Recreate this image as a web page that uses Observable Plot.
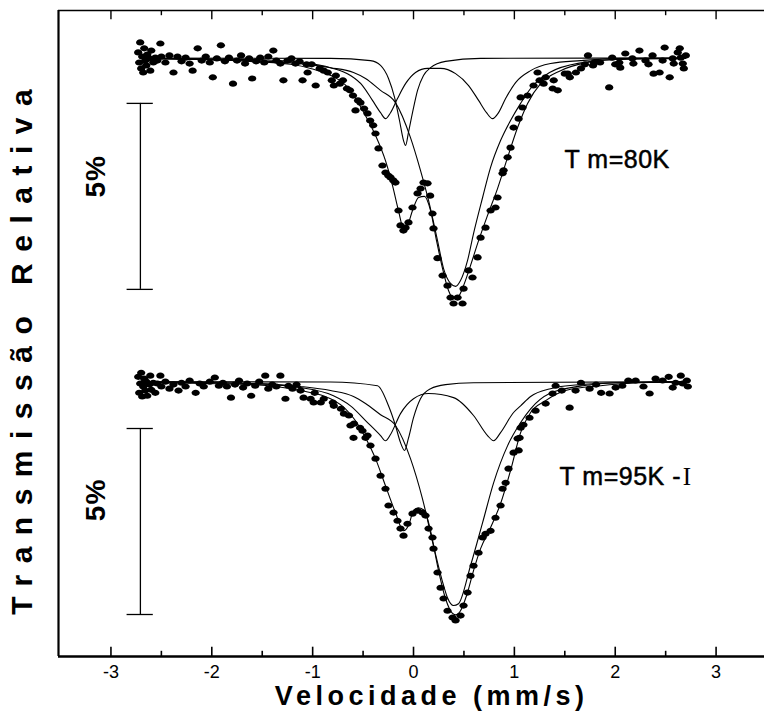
<!DOCTYPE html>
<html>
<head>
<meta charset="utf-8">
<script src="https://cdn.jsdelivr.net/npm/d3@7"></script>
<script src="https://cdn.jsdelivr.net/npm/@observablehq/plot@0.6"></script>
<style>
  html, body { margin: 0; padding: 0; background: #fff; }
  #chart svg { display: block; }
</style>
</head>
<body>
<div id="chart"></div>
<script>
// ---------- data (velocity mm/s, relative transmission %) ----------
const sampleLabels = ["T m=80K", "T m=95K -"];
const sampleOffsets = [0, -8.70];          // vertical stacking of the two spectra (in %)
const majorTicks = [-3, -2, -1, 0, 1, 2, 3];
const minorTicks = [-2.5, -1.5, -0.5, 0.5, 1.5, 2.5];
const scaleBarTop = [98.78, 98.74];         // top of each 5 % scale bar
const scaleBarLength = 5;

const pts80 = [
[-2.73,100.15],[-2.72,99.88],[-2.71,100.42],[-2.70,99.72],[-2.69,100.04],[-2.68,99.61],[-2.67,100.26],[-2.66,99.93],[-2.65,99.80],[-2.64,100.09],[-2.62,99.99],[-2.61,99.66],[-2.60,100.20],[-2.58,99.88],[-2.56,100.01],
[-2.54,99.93],[-2.51,100.39],[-2.50,100.04],[-2.46,99.88],[-2.42,100.07],[-2.38,99.61],[-2.34,100.04],[-2.30,99.91],[-2.26,100.01],[-2.22,99.85],[-2.19,99.66],[-2.14,100.26],[-2.10,99.93],[-2.06,100.04],[-2.02,99.88],[-1.99,99.48],[-1.95,99.99],[-1.91,100.34],[-1.87,99.91],[-1.83,100.01],[-1.79,99.31],[-1.75,99.93],[-1.71,100.07],[-1.67,99.85],[-1.63,99.99],[-1.60,99.45],[-1.56,99.91],[-1.52,100.01],[-1.48,99.88],[-1.44,100.04],[-1.39,100.20],[-1.36,99.93],[-1.32,99.85],[-1.29,99.40],[-1.25,99.93],[-1.21,99.99],[-1.17,99.85],[-1.13,99.91],[-1.10,99.40],[-1.06,99.83],[-1.05,99.61],[-1.01,99.83],[-0.97,99.26],[-0.93,99.72],[-0.89,99.66],[-0.85,99.61],[-0.81,99.40],[-0.79,99.26],[-0.77,99.53],[-0.73,99.31],[-0.70,99.40],[-0.66,99.18],[-0.63,99.13],[-0.60,98.99],[-0.575,98.59],[-0.55,98.86],[-0.526,98.80],[-0.49,98.64],[-0.456,98.51],[-0.43,98.32],[-0.40,98.19],[-0.377,97.97],[-0.347,97.57],[-0.308,97.11],[-0.278,96.92],[-0.25,96.84],[-0.228,96.79],[-0.20,96.71],[-0.179,96.65],[-0.149,95.90],[-0.129,95.50],[-0.10,95.36],[-0.079,95.44],[-0.050,95.58],[-0.010,95.98],[0.040,96.36],[0.070,96.49],[0.099,96.65],[0.139,96.63],[0.165,96.30],[0.188,95.82],[0.198,95.42],[0.238,94.62],[0.288,94.15],[0.337,93.88],[0.367,93.56],[0.397,93.40],[0.437,93.56],[0.486,93.40],[0.496,93.80],[0.546,94.29],[0.585,94.10],[0.635,94.64],[0.665,95.17],[0.714,95.44],[0.764,95.90],[0.813,95.98],[0.833,96.25],[0.883,96.90],[0.893,96.98],[0.933,97.33],[0.962,97.59],[0.992,98.13],[1.042,98.37],[1.062,98.94],[1.081,98.67],[1.131,98.99],[1.190,99.26],[1.230,99.61],[1.25,99.40],[1.29,99.31],[1.31,99.48],[1.38,99.18],[1.39,99.40],[1.43,99.13],[1.50,99.58],[1.53,99.58],[1.55,99.48],[1.61,99.61],[1.66,99.72],[1.70,99.83],[1.73,100.07],[1.78,99.80],[1.79,99.88],[1.85,99.88],[1.94,99.21],[1.97,100.01],[2.00,99.83],[2.04,99.88],[2.05,99.74],[2.10,100.12],[2.17,99.99],[2.18,99.85],[2.24,100.20],[2.30,99.93],[2.33,99.83],[2.37,100.07],[2.38,99.58],[2.44,99.61],[2.47,99.93],[2.49,100.28],[2.54,99.48],[2.57,99.99],[2.58,99.85],[2.62,100.15],[2.64,100.26],[2.65,100.01],[2.67,99.85],[2.68,99.72],[2.70,100.07]
];

const fit80Total = [[-2.70,99.99],[-2.11,99.96],[-1.62,99.91],[-1.22,99.83],[-1.02,99.72],[-0.82,99.53],[-0.67,99.26],[-0.575,98.91],[-0.476,98.45],[-0.377,97.92],[-0.278,97.24],[-0.208,96.57],[-0.149,95.90],[-0.099,95.42],[-0.060,95.50],[-0.010,95.90],[0.050,96.25],[0.109,96.28],[0.169,95.90],[0.228,95.09],[0.288,94.34],[0.347,93.75],[0.397,93.53],[0.446,93.59],[0.496,93.88],[0.565,94.42],[0.645,95.09],[0.734,95.77],[0.833,96.49],[0.933,97.33],[1.032,98.13],[1.131,98.78],[1.260,99.31],[1.458,99.66],[1.726,99.88],[1.984,99.96],[2.351,99.99],[2.698,99.99]];
const fit80A = [[-2.70,99.99],[-1.617,99.96],[-1.121,99.88],[-0.823,99.74],[-0.625,99.53],[-0.506,99.26],[-0.407,98.86],[-0.327,98.53],[-0.278,98.37],[-0.228,98.53],[-0.159,98.91],[-0.079,99.31],[0.020,99.61],[0.139,99.72],[0.268,99.72],[0.417,99.58],[0.546,99.26],[0.645,98.86],[0.724,98.53],[0.784,98.37],[0.843,98.53],[0.913,98.91],[1.012,99.34],[1.161,99.66],[1.359,99.85],[1.657,99.93],[2.054,99.99],[2.698,99.99]];
const fit80B = [[-2.70,100.00],[-0.823,99.99],[-0.427,99.93],[-0.327,99.80],[-0.248,99.45],[-0.188,98.94],[-0.139,98.32],[-0.099,97.78],[-0.079,97.65],[-0.050,98.00],[-0.010,98.53],[0.040,99.13],[0.099,99.53],[0.169,99.74],[0.317,99.91],[0.665,99.99],[2.698,100.00]];
const fit80C = [[-2.70,99.99],[-1.617,99.93],[-1.121,99.85],[-0.823,99.74],[-0.595,99.61],[-0.476,99.45],[-0.327,99.13],[-0.179,98.80],[-0.030,97.86],[0.069,96.98],[0.149,96.17],[0.238,95.09],[0.298,94.34],[0.367,93.94],[0.417,93.86],[0.466,94.02],[0.536,94.56],[0.595,95.28],[0.685,96.25],[0.764,97.06],[0.863,97.78],[0.962,98.32],[1.062,98.78],[1.161,99.18],[1.349,99.61],[1.677,99.88],[2.004,99.96],[2.698,99.99]];

const pts95 = [
[-2.73,100.13],[-2.72,99.70],[-2.71,99.95],[-2.70,100.24],[-2.69,99.60],[-2.68,99.87],[-2.67,100.08],[-2.66,99.76],[-2.65,100.00],[-2.64,99.62],[-2.62,99.92],[-2.61,100.16],[-2.60,99.78],[-2.58,99.97],[-2.56,99.70],
[-2.54,99.95],[-2.51,100.16],[-2.50,99.87],[-2.46,100.00],[-2.42,99.81],[-2.38,99.92],[-2.33,99.76],[-2.30,99.97],[-2.26,99.87],[-2.22,100.03],[-2.16,99.70],[-2.12,99.95],[-2.08,99.87],[-2.02,100.00],[-1.97,100.11],[-1.93,99.89],[-1.89,99.97],[-1.85,99.87],[-1.81,99.57],[-1.77,99.92],[-1.73,100.03],[-1.69,99.84],[-1.65,99.95],[-1.61,99.62],[-1.57,99.89],[-1.53,100.00],[-1.47,100.16],[-1.44,99.81],[-1.40,99.92],[-1.36,99.87],[-1.32,100.16],[-1.27,99.54],[-1.24,99.89],[-1.20,99.81],[-1.16,99.92],[-1.12,99.76],[-1.09,99.57],[-1.02,99.54],[-0.99,99.44],[-0.98,99.70],[-0.92,99.44],[-0.89,99.54],[-0.80,99.44],[-0.79,99.35],[-0.72,99.27],[-0.69,99.14],[-0.64,99.09],[-0.625,98.82],[-0.595,98.49],[-0.59,98.87],[-0.53,98.76],[-0.506,98.68],[-0.476,98.49],[-0.456,98.55],[-0.427,98.28],[-0.377,97.93],[-0.327,97.47],[-0.278,97.12],[-0.248,96.67],[-0.198,96.48],[-0.159,96.26],[-0.129,96.05],[-0.099,95.86],[-0.060,96.18],[-0.010,96.45],[0.040,96.53],[0.089,96.48],[0.119,96.40],[0.149,96.05],[0.188,95.81],[0.198,95.51],[0.238,94.87],[0.268,94.46],[0.298,94.17],[0.337,93.84],[0.387,93.66],[0.417,93.58],[0.466,93.71],[0.496,93.98],[0.536,94.33],[0.565,94.78],[0.595,95.05],[0.645,95.40],[0.685,95.81],[0.714,95.91],[0.764,95.99],[0.813,96.34],[0.863,96.67],[0.883,97.12],[0.913,97.28],[0.942,97.66],[0.992,98.09],[1.032,98.47],[1.042,98.15],[1.052,98.49],[1.062,98.76],[1.09,98.84],[1.150,99.03],[1.210,99.22],[1.310,99.41],[1.379,99.68],[1.409,99.89],[1.47,99.76],[1.548,99.30],[1.607,99.76],[1.66,99.97],[1.746,99.81],[1.81,99.92],[1.86,99.70],[1.944,99.68],[2.004,99.84],[2.07,99.89],[2.13,100.03],[2.202,100.03],[2.28,99.87],[2.341,99.68],[2.40,100.08],[2.470,100.03],[2.53,100.13],[2.57,99.84],[2.599,99.97],[2.65,100.16],[2.669,99.95],[2.71,100.03],[2.72,99.87]
];

const fit95Total = [[-2.70,99.97],[-1.617,99.92],[-1.121,99.76],[-0.823,99.54],[-0.675,99.27],[-0.575,98.95],[-0.476,98.49],[-0.377,97.93],[-0.278,97.20],[-0.179,96.48],[-0.099,95.99],[-0.050,96.13],[0.000,96.53],[0.050,96.61],[0.109,96.53],[0.169,95.99],[0.238,95.05],[0.308,94.25],[0.367,93.84],[0.417,93.73],[0.466,93.84],[0.526,94.25],[0.595,94.92],[0.665,95.51],[0.764,96.08],[0.863,96.72],[0.962,97.61],[1.062,98.63],[1.161,99.17],[1.310,99.49],[1.508,99.76],[1.855,99.89],[2.252,99.97],[2.698,100.00]];
const fit95A = [[-2.70,99.99],[-1.617,99.95],[-1.121,99.84],[-0.794,99.62],[-0.625,99.35],[-0.456,98.90],[-0.327,98.55],[-0.278,98.41],[-0.228,98.58],[-0.129,99.14],[0.000,99.54],[0.149,99.68],[0.397,99.57],[0.595,99.09],[0.734,98.55],[0.794,98.41],[0.863,98.63],[0.992,99.17],[1.062,99.35],[1.161,99.60],[1.359,99.81],[1.657,99.92],[2.054,99.97],[2.698,99.99]];
const fit95B = [[-2.70,100.00],[-0.823,99.99],[-0.357,99.89],[-0.248,99.35],[-0.179,98.82],[-0.129,98.36],[-0.089,98.15],[-0.050,98.48],[0.000,99.03],[0.069,99.54],[0.169,99.81],[0.317,99.92],[0.595,99.97],[2.698,100.00]];
const fit95C = [[-2.70,99.99],[-1.617,99.95],[-1.121,99.87],[-0.823,99.76],[-0.595,99.60],[-0.476,99.41],[-0.327,99.11],[-0.179,98.82],[-0.030,97.93],[0.089,96.85],[0.198,95.59],[0.298,94.52],[0.337,94.19],[0.397,93.98],[0.446,94.03],[0.565,95.05],[0.685,96.21],[0.794,97.28],[0.933,98.28],[1.062,98.90],[1.161,99.27],[1.349,99.68],[1.677,99.89],[2.004,99.97],[2.698,99.99]];

// ---------- build tables ----------
const toRows = (pairs, off) => pairs.map(([v, t]) => ({v, t: t + off}));
const spectra = [
  {pts: pts80, fits: [fit80Total, fit80A, fit80B, fit80C]},
  {pts: pts95, fits: [fit95Total, fit95A, fit95B, fit95C]}
];
const dotRows = spectra.flatMap((s, i) => toRows(s.pts, sampleOffsets[i]));
const fitRows = spectra.flatMap((s, i) =>
  s.fits.flatMap((f, k) => toRows(f, sampleOffsets[i]).map(r => ({...r, id: i * 10 + k}))));
const bars = scaleBarTop.map((top, i) => ({y1: top + sampleOffsets[i], y2: top - scaleBarLength + sampleOffsets[i]}));

const X_DOMAIN = [-3.52, 3.48];
const Y_DOMAIN = [83.911, 101.277];
const MAJOR_LEN = 0.25, MINOR_LEN = 0.14;   // tick lengths in y units (inward)
const FONT = "'Liberation Sans', Arial, Helvetica, sans-serif";

// slightly flattened dot, like the scanned markers
const ellipse = {draw(context, size) {
  const r = Math.sqrt(size / Math.PI), rx = r * 1.18, ry = r * 0.88, k = 0.5523;
  context.moveTo(rx, 0);
  context.bezierCurveTo(rx, ry * k, rx * k, ry, 0, ry);
  context.bezierCurveTo(-rx * k, ry, -rx, ry * k, -rx, 0);
  context.bezierCurveTo(-rx, -ry * k, -rx * k, -ry, 0, -ry);
  context.bezierCurveTo(rx * k, -ry, rx, -ry * k, rx, 0);
  context.closePath();
}};

const svg = Plot.plot({
  width: 764,
  height: 719,
  marginLeft: 58,
  marginRight: 0,
  marginTop: 10,
  marginBottom: 63,
  style: {fontFamily: FONT, background: "#fff", color: "#000", overflow: "visible"},
  x: {domain: X_DOMAIN, axis: null},
  y: {domain: Y_DOMAIN, axis: null},
  marks: [
    // frame
    Plot.ruleY([Y_DOMAIN[1]], {stroke: "#000", strokeWidth: 1.6}),
    Plot.ruleY([Y_DOMAIN[0]], {stroke: "#000", strokeWidth: 2.6}),
    Plot.ruleX([X_DOMAIN[0]], {stroke: "#000", strokeWidth: 2.2}),
    // inward ticks, bottom and top
    Plot.ruleX(majorTicks, {x: d => d, y1: Y_DOMAIN[0], y2: Y_DOMAIN[0] + MAJOR_LEN, stroke: "#000", strokeWidth: 1.6}),
    Plot.ruleX(minorTicks, {x: d => d, y1: Y_DOMAIN[0], y2: Y_DOMAIN[0] + MINOR_LEN, stroke: "#000", strokeWidth: 1.6}),
    Plot.ruleX(majorTicks, {x: d => d, y1: Y_DOMAIN[1], y2: Y_DOMAIN[1] - MAJOR_LEN, stroke: "#000", strokeWidth: 1.4}),
    Plot.ruleX(minorTicks, {x: d => d, y1: Y_DOMAIN[1], y2: Y_DOMAIN[1] - MINOR_LEN, stroke: "#000", strokeWidth: 1.4}),
    // tick labels
    Plot.text(majorTicks, {x: d => d, y: Y_DOMAIN[0], dy: 15.5, text: d => String(d), lineAnchor: "middle",
      fontSize: 18, fill: "#000"}),
    // fits
    Plot.line(fitRows, {x: "v", y: "t", z: "id", curve: "monotone-x", stroke: "#000", strokeWidth: 1.1}),
    // data
    Plot.dot(dotRows, {x: "v", y: "t", r: 3.5, symbol: ellipse, fill: "#000", stroke: "none"}),
    // 5% scale bars
    Plot.ruleX(bars, {x: -2.708, y1: "y1", y2: "y2", stroke: "#000", strokeWidth: 1.3}),
    Plot.ruleY(bars, {y: "y1", x1: -2.84, x2: -2.58, stroke: "#000", strokeWidth: 1.3}),
    Plot.ruleY(bars, {y: "y2", x1: -2.84, x2: -2.58, stroke: "#000", strokeWidth: 1.3}),
    Plot.text(sampleOffsets.map(o => ({y: 96.82 + o})), {x: -3.15, y: "y", text: () => "5%", rotate: -90,
      fontSize: 28, fontWeight: "bold", fill: "#000"}),
    // sample labels
    Plot.text(sampleLabels.map((s, i) => ({s, y: 97.27 + sampleOffsets[i] + (i ? 0.17 : 0), x: i ? 1.448 : 1.498})),
      {x: "x", y: "y", text: "s", textAnchor: "start", lineAnchor: "middle", fontSize: 25, fill: "#000",
       stroke: "#000", strokeWidth: 0.5}),
    Plot.text(["I"], {x: 2.67, y: 97.44 + sampleOffsets[1], textAnchor: "start", lineAnchor: "middle",
      fontSize: 25, fontFamily: "'Liberation Serif', 'Times New Roman', serif", fill: "#000"}),
    // axis titles
    Plot.text(["Velocidade (mm/s)"], {x: 0.18, y: 82.85, textAnchor: "middle", lineAnchor: "middle",
      fontSize: 27, fontWeight: "bold", fill: "#000"}),
    Plot.text(["Transmissão Relativa"], {x: -3.879, y: 92.25, rotate: -90, textAnchor: "middle", lineAnchor: "middle",
      fontSize: 30, fontWeight: "bold", fill: "#000"})
  ]
});

const root = d3.select(svg);
root.selectAll("text").each(function () {
  const t = this.textContent;
  if (t === "Transmissão Relativa") this.setAttribute("letter-spacing", "11.5");
  else if (t === "Velocidade (mm/s)") this.setAttribute("letter-spacing", "4.5");
  else if (t.startsWith("T m=")) this.setAttribute("letter-spacing", "0.5");
  else if (t === "5%") this.setAttribute("letter-spacing", "1");
});

document.getElementById("chart").append(svg);
</script>
</body>
</html>
